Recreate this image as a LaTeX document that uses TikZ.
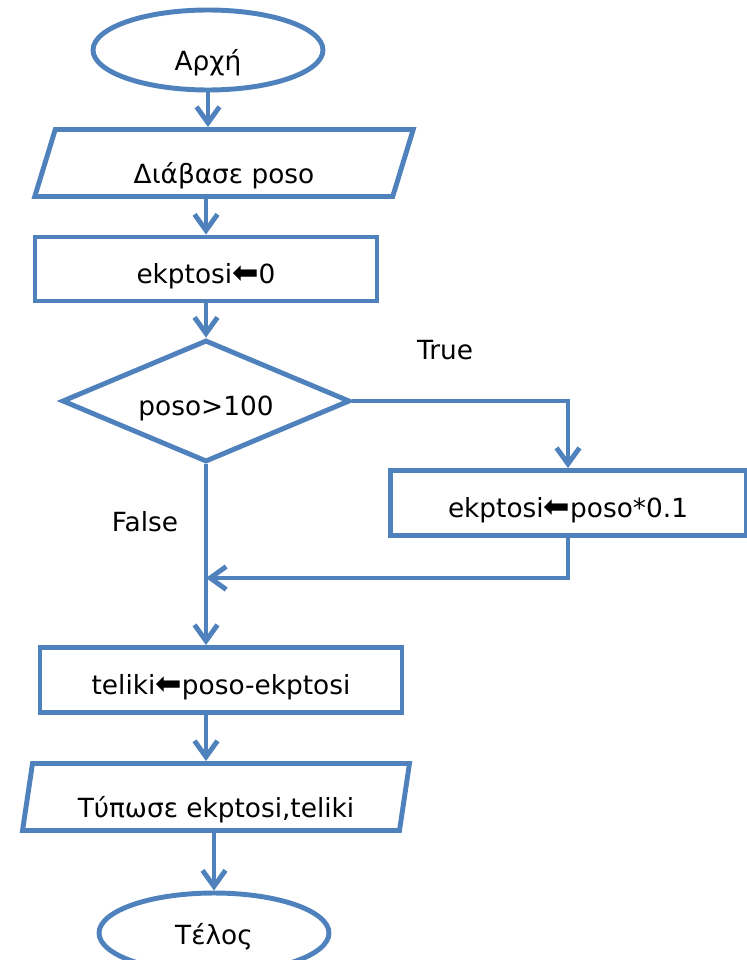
\documentclass[tikz,border=0pt]{standalone}
\usepackage{fontspec}
\setmainfont{DejaVu Sans}
\usepackage{tikz}
\usetikzlibrary{arrows.meta,shapes.geometric}
\definecolor{flowblue}{HTML}{4F81BD}
\newcommand{\asgn}{{\fontsize{18}{18}\selectfont\symbol{"2B05}}}
\tikzset{
  box/.style      = {draw=flowblue,line width=2.8pt,rectangle,inner sep=0pt,
                     text height=1.8em,text depth=0.2em},
  endpoint/.style = {box,ellipse,minimum width=4.6cm,minimum height=1.6cm},
  iobox/.style    = {box,trapezium,trapezium stretches=true,
                     minimum height=1.34cm,text height=2.5em},
  testbox/.style  = {box,diamond,aspect=2.36,minimum width=5.76cm,
                     minimum height=2.44cm},
  flow/.style     = {-{Straight Barb[length=3.2mm,width=4.6mm]},
                     draw=flowblue,line width=2.8pt},
  flowlabel/.style= {font=\fontsize{15}{18}\selectfont}
}

\begin{document}
\begin{tikzpicture}[x=0.02cm,y=-0.02cm,font=\fontsize{15}{18}\selectfont]
  \useasboundingbox (0,0) rectangle (747,960);
  \node[endpoint,text height=2.5em] (start) at (208,50) {Αρχή};
  \node[iobox,trapezium left angle=77,trapezium right angle=103,
        minimum width=7.58cm] (read) at (224,163) {Διάβασε poso};
  \node[box,minimum width=6.84cm,minimum height=1.28cm] (init) at (206,269)
        {ekptosi\asgn0};
  \node[testbox] (cond) at (206,401) {poso>100};
  \node[flowlabel] (truelbl) at (445,350) {True};
  \node[box,minimum width=7.12cm,minimum height=1.3cm] (yes) at (568,503)
        {ekptosi\asgn poso*0.1};
  \node[flowlabel] (falselbl) at (145,522) {False};
  \coordinate (join) at (206,578);
  \node[box,minimum width=7.24cm,minimum height=1.3cm] (calc) at (221,680)
        {teliki\asgn poso-ekptosi};
  \node[iobox,trapezium left angle=81,trapezium right angle=99,
        minimum width=7.76cm] (print) at (216,797) {Τύπωσε ekptosi,teliki};
  \node[endpoint,text height=1.5em] (end) at (214,933) {Τέλος};
  % connectors
  \draw[flow] (start) -- (start |- read.north);
  \draw[flow] (init.north |- read.south) -- (init);
  \draw[flow] (init) -- (cond);
  \draw[flow] (cond.east) -| (yes.north);
  \draw[flow] (yes.south) |- (join);
  \draw[flow] (cond) -- (cond |- calc.north);
  \draw[flow] (calc.south -| cond) -- (cond |- print.north);
  \draw[flow] (print.south -| end) -- (end);
\end{tikzpicture}
\end{document}
